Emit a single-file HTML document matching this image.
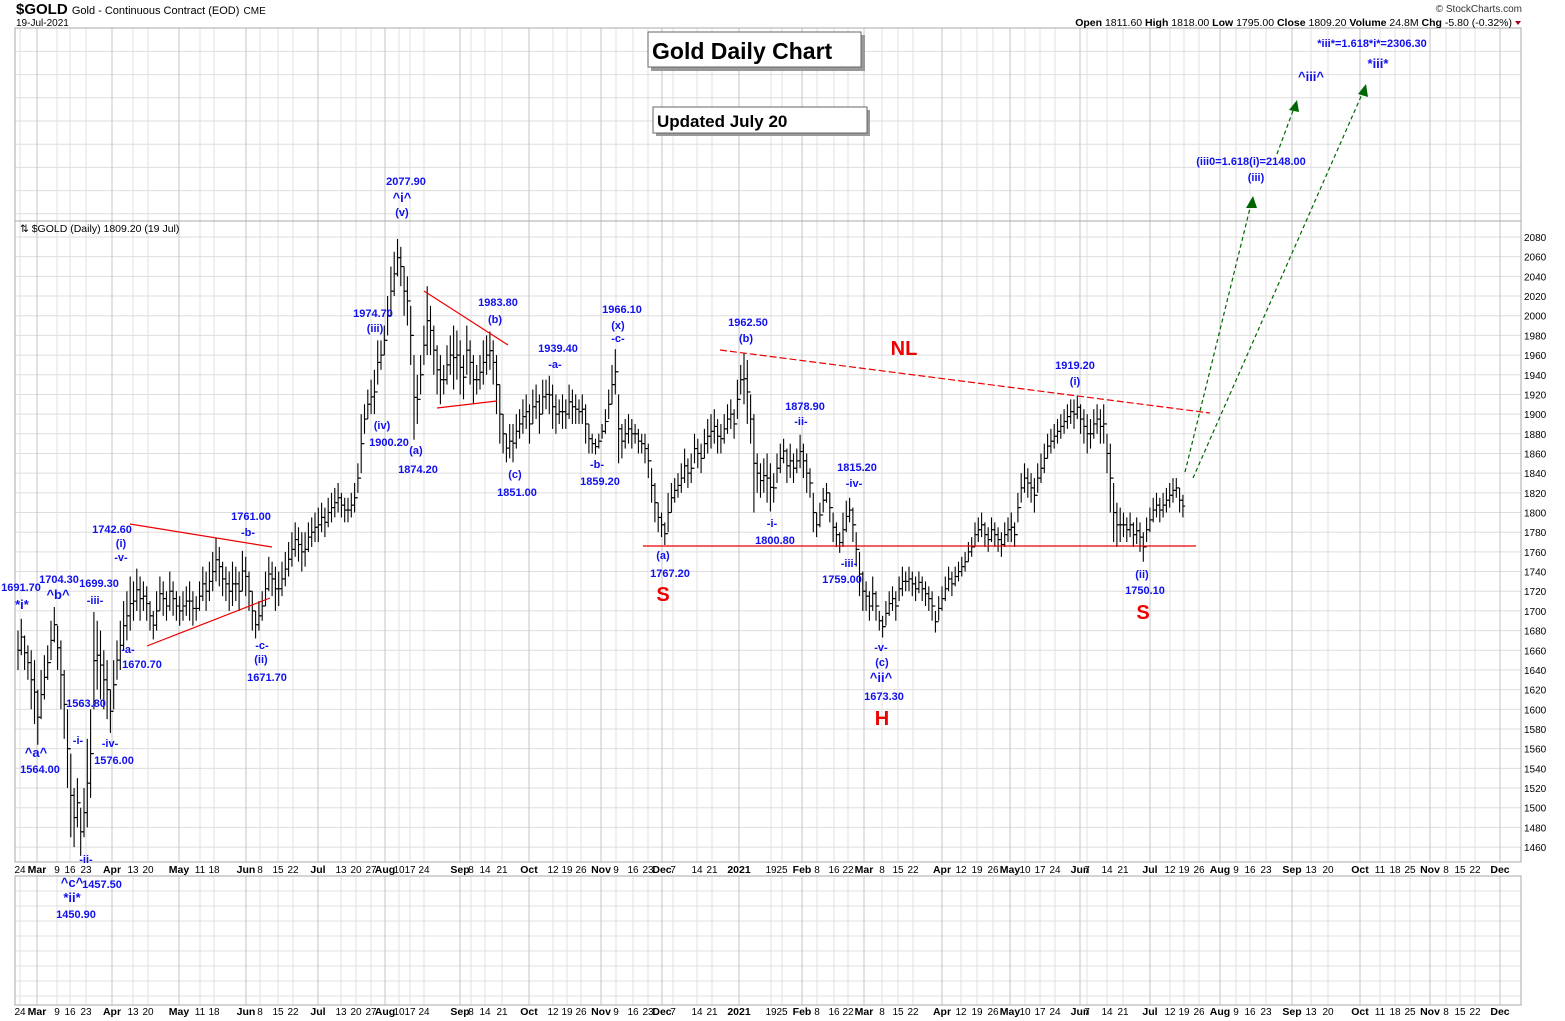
<!DOCTYPE html>
<html><head><meta charset="utf-8"><style>
html,body{margin:0;padding:0;background:#fff;}
svg{display:block;font-family:"Liberation Sans",Arial,sans-serif;}
.lb{fill:#1010ee;font-weight:bold;font-size:11px;text-anchor:middle;}
.lw{fill:#1010ee;font-weight:bold;font-size:13px;text-anchor:middle;}
.rd{fill:#ee0000;font-weight:bold;font-size:20px;text-anchor:middle;}
.tk{font-size:10px;fill:#000;text-anchor:middle;}
.tkm{font-size:10.5px;fill:#000;font-weight:bold;text-anchor:middle;}
.ax{font-size:10px;fill:#000;}
</style></head><body>
<svg id="chart" width="1565" height="1021" viewBox="0 0 1565 1021">
<g id="grid"></g>
<rect x="15" y="28" width="1506" height="834" fill="none" stroke="#aaa"/>
<line x1="15" y1="221" x2="1521" y2="221" stroke="#aaa"/>
<rect x="15" y="876" width="1506" height="129" fill="none" stroke="#aaa"/>
<g id="ticks"></g>
<g id="yaxis"></g>
<g id="bars"></g>

<text x="16" y="14" font-size="15" font-weight="bold" font-family="Liberation Sans Narrow,Liberation Sans,sans-serif">$GOLD <tspan font-size="11" font-weight="normal">Gold - Continuous Contract (EOD)</tspan> <tspan font-size="10" font-weight="normal">CME</tspan></text>
<text x="16" y="26" font-size="10">19-Jul-2021</text>
<text x="1522" y="12" font-size="10" text-anchor="end" fill="#333">© StockCharts.com</text>
<text x="1512" y="26" font-size="10.5" text-anchor="end"><tspan font-weight="bold">Open</tspan> 1811.60  <tspan font-weight="bold">High</tspan> 1818.00  <tspan font-weight="bold">Low</tspan> 1795.00  <tspan font-weight="bold">Close</tspan> 1809.20  <tspan font-weight="bold">Volume</tspan> 24.8M  <tspan font-weight="bold">Chg</tspan> -5.80 (-0.32%)</text>
<polygon points="1515,21 1521,21 1518,25" fill="#a00020"/>
<text x="20" y="232" font-size="10.5">⇅ $GOLD (Daily) 1809.20 (19 Jul)</text>

<g>
<rect x="651" y="35" width="214" height="36" fill="#999"/>
<rect x="648" y="32" width="213" height="35" fill="#fff" stroke="#666"/>
<text x="652" y="59" font-size="23" font-weight="bold">Gold Daily Chart</text></g>
<g>
<rect x="656" y="110" width="214" height="26" fill="#999"/>
<rect x="653" y="107" width="214" height="26" fill="#fff" stroke="#666"/>
<text x="657" y="127" font-size="17" font-weight="bold">Updated July 20</text></g>

<g stroke="#ee0000" stroke-width="1.2">
<line x1="130" y1="524" x2="272" y2="547"/><line x1="147" y1="646" x2="270" y2="598"/>
<line x1="424" y1="291" x2="508" y2="345"/><line x1="437" y1="408" x2="497" y2="401"/>
<line x1="720" y1="350" x2="1210" y2="413" stroke-dasharray="7,3"/>
<line x1="643" y1="546" x2="1196" y2="546"/>
</g>
<g stroke="#006600" stroke-width="1.2" stroke-dasharray="4,3" fill="#006600">
<line x1="1185" y1="472" x2="1251" y2="204"/><polygon points="1253,196 1246,208 1257,208" stroke="none"/>
<line x1="1277" y1="154" x2="1294" y2="108"/><polygon points="1297,100 1289,110 1299,112" stroke="none"/>
<line x1="1193" y1="478" x2="1363" y2="92"/><polygon points="1366,84 1358,94 1368,97" stroke="none"/>
</g>

<g>
<text class="lb" x="21" y="591">1691.70</text><text class="lw" x="22" y="609">*i*</text>
<text class="lb" x="59" y="583">1704.30</text><text class="lw" x="58" y="599">^b^</text>
<text class="lb" x="99" y="587">1699.30</text><text class="lb" x="95" y="604">-iii-</text>
<text class="lb" x="112" y="533">1742.60</text><text class="lb" x="121" y="547">(i)</text><text class="lb" x="121" y="561">-v-</text>
<text class="lb" x="251" y="520">1761.00</text><text class="lb" x="248" y="536">-b-</text>
<text class="lb" x="128" y="653">-a-</text><text class="lb" x="142" y="668">1670.70</text>
<text class="lb" x="262" y="649">-c-</text><text class="lb" x="261" y="663">(ii)</text><text class="lb" x="267" y="681">1671.70</text>
<text class="lb" x="86" y="707">1563.80</text><text class="lb" x="78" y="744">-i-</text>
<text class="lw" x="36" y="757">^a^</text><text class="lb" x="40" y="773">1564.00</text>
<text class="lb" x="110" y="747">-iv-</text><text class="lb" x="114" y="764">1576.00</text>
<text class="lb" x="86" y="863">-ii-</text>
<text class="lw" x="72" y="887">^c^</text><text class="lb" x="102" y="888">1457.50</text>
<text class="lw" x="72" y="902">*ii*</text><text class="lb" x="76" y="918">1450.90</text>
<text class="lb" x="406" y="185">2077.90</text><text class="lw" x="402" y="202">^i^</text><text class="lb" x="402" y="216">(v)</text>
<text class="lb" x="373" y="317">1974.70</text><text class="lb" x="375" y="332">(iii)</text>
<text class="lb" x="382" y="429">(iv)</text><text class="lb" x="389" y="446">1900.20</text>
<text class="lb" x="416" y="454">(a)</text><text class="lb" x="418" y="473">1874.20</text>
<text class="lb" x="498" y="306">1983.80</text><text class="lb" x="495" y="323">(b)</text>
<text class="lb" x="515" y="478">(c)</text><text class="lb" x="517" y="496">1851.00</text>
<text class="lb" x="558" y="352">1939.40</text><text class="lb" x="555" y="368">-a-</text>
<text class="lb" x="622" y="313">1966.10</text><text class="lb" x="618" y="329">(x)</text><text class="lb" x="618" y="342">-c-</text>
<text class="lb" x="597" y="468">-b-</text><text class="lb" x="600" y="485">1859.20</text>
<text class="lb" x="748" y="326">1962.50</text><text class="lb" x="746" y="342">(b)</text>
<text class="lb" x="805" y="410">1878.90</text><text class="lb" x="801" y="425">-ii-</text>
<text class="lb" x="772" y="527">-i-</text><text class="lb" x="775" y="544">1800.80</text>
<text class="lb" x="857" y="471">1815.20</text><text class="lb" x="854" y="487">-iv-</text>
<text class="lb" x="849" y="567">-iii-</text><text class="lb" x="842" y="583">1759.00</text>
<text class="lb" x="663" y="559">(a)</text><text class="lb" x="670" y="577">1767.20</text>
<text class="lb" x="881" y="651">-v-</text><text class="lb" x="882" y="666">(c)</text>
<text class="lw" x="881" y="682">^ii^</text><text class="lb" x="884" y="700">1673.30</text>
<text class="lb" x="1075" y="369">1919.20</text><text class="lb" x="1075" y="385">(i)</text>
<text class="lb" x="1142" y="578">(ii)</text><text class="lb" x="1145" y="594">1750.10</text>
<text class="lb" x="1251" y="165" font-size="10">(iii0=1.618(i)=2148.00</text><text class="lb" x="1256" y="181">(iii)</text>
<text class="lw" x="1311" y="81">^iii^</text>
<text class="lb" x="1372" y="47" font-size="10">*iii*=1.618*i*=2306.30</text><text class="lw" x="1378" y="68">*iii*</text>
</g>
<g>
<text class="rd" x="663" y="601">S</text><text class="rd" x="904" y="355">NL</text>
<text class="rd" x="882" y="725">H</text><text class="rd" x="1143" y="619">S</text>
</g>
</svg>
<script>
const highs = [
1680,1692,1675,1665,1660,1650,1620,1640,1655,1665,
1690,1704,1685,1670,1640,1600,1555,1520,1530,1500,
1520,1570,1600,1699,1690,1680,1660,1650,1620,1650,
1670,1690,1710,1720,1735,1730,1743,1735,1730,1725,
1710,1700,1720,1735,1730,1720,1740,1730,1720,1715,
1720,1725,1730,1720,1715,1730,1745,1740,1750,1760,
1774,1765,1750,1745,1740,1750,1745,1740,1761,1755,
1740,1720,1700,1710,1720,1740,1755,1750,1745,1740,
1750,1760,1770,1780,1790,1785,1780,1780,1790,1795,
1800,1805,1810,1805,1815,1820,1825,1830,1820,1815,
1815,1820,1830,1850,1900,1910,1925,1935,1945,1975,
1975,1990,2020,2050,2065,2078,2070,2050,2040,2010,
1960,1940,1960,1990,2030,2010,1990,1970,1960,1950,
1970,1980,1990,1985,1975,1960,1990,1975,1960,1950,
1960,1975,1980,1984,1975,1960,1930,1900,1880,1890,
1890,1900,1905,1915,1920,1910,1925,1930,1920,1935,
1935,1939,1930,1920,1915,1920,1915,1930,1925,1920,
1915,1920,1910,1890,1880,1875,1880,1890,1905,1925,
1950,1966,1920,1890,1895,1900,1895,1890,1885,1880,
1880,1870,1845,1830,1810,1800,1790,1820,1830,1835,
1840,1850,1865,1855,1860,1880,1875,1870,1885,1895,
1900,1905,1895,1890,1900,1910,1915,1905,1935,1950,
1962,1955,1920,1900,1860,1850,1855,1860,1850,1840,
1860,1870,1875,1865,1870,1860,1865,1879,1870,1860,
1845,1820,1800,1810,1825,1830,1820,1800,1790,1780,
1800,1812,1815,1805,1780,1760,1740,1730,1720,1735,
1720,1700,1695,1710,1720,1725,1720,1735,1745,1740,
1745,1740,1735,1740,1735,1730,1725,1720,1700,1715,
1725,1735,1745,1740,1745,1750,1755,1760,1770,1775,
1790,1795,1800,1790,1785,1795,1790,1785,1780,1790,
1795,1800,1790,1820,1840,1850,1845,1840,1835,1850,
1860,1870,1880,1885,1890,1895,1900,1905,1910,1915,
1915,1919,1910,1905,1900,1895,1905,1910,1905,1910,
1880,1870,1830,1810,1805,1800,1795,1800,1790,1795,
1790,1780,1795,1805,1815,1820,1815,1820,1825,1830,1835,1835,1825,1818];
const lows = [
1640,1655,1640,1630,1600,1585,1564,1590,1610,1630,
1650,1668,1640,1600,1570,1520,1470,1460,1480,1451,
1470,1480,1510,1600,1620,1610,1600,1590,1576,1600,
1630,1640,1660,1670,1680,1690,1700,1690,1700,1690,
1680,1671,1680,1700,1695,1690,1700,1695,1690,1685,
1690,1695,1690,1685,1690,1700,1710,1700,1710,1720,
1730,1725,1715,1710,1700,1705,1710,1700,1720,1715,
1700,1680,1672,1680,1690,1705,1720,1715,1700,1705,
1715,1725,1735,1745,1755,1750,1740,1745,1760,1765,
1770,1770,1780,1775,1785,1790,1795,1800,1795,1790,
1790,1795,1800,1820,1840,1880,1895,1900,1900,1930,
1945,1960,1980,2000,2020,2040,2030,2000,1990,1950,
1874,1890,1920,1950,1960,1960,1940,1920,1910,1920,
1930,1940,1925,1935,1920,1915,1940,1930,1910,1920,
1925,1930,1940,1945,1930,1900,1870,1860,1851,1855,
1851,1865,1875,1880,1885,1870,1890,1895,1880,1900,
1905,1900,1885,1880,1890,1885,1885,1895,1890,1890,
1890,1890,1870,1860,1860,1859,1865,1875,1880,1895,
1910,1920,1850,1855,1865,1870,1865,1870,1860,1860,
1850,1835,1810,1790,1780,1775,1767,1780,1800,1810,
1815,1820,1830,1825,1830,1850,1845,1840,1855,1860,
1865,1870,1860,1860,1870,1880,1885,1875,1895,1920,
1910,1890,1870,1800,1820,1815,1820,1810,1801,1810,
1830,1840,1850,1830,1835,1830,1840,1845,1835,1820,
1815,1780,1775,1785,1800,1810,1790,1770,1765,1759,
1765,1780,1790,1770,1745,1715,1700,1700,1690,1700,
1690,1680,1673,1685,1695,1700,1690,1710,1715,1720,
1720,1715,1710,1718,1710,1705,1700,1690,1678,1690,
1700,1710,1720,1715,1725,1730,1735,1740,1750,1755,
1765,1770,1775,1765,1760,1770,1765,1760,1755,1765,
1770,1770,1765,1790,1810,1820,1815,1810,1800,1820,
1830,1840,1855,1860,1865,1870,1875,1880,1885,1890,
1885,1895,1880,1870,1860,1865,1875,1880,1870,1870,
1840,1800,1770,1765,1770,1775,1770,1775,1765,1768,
1760,1750,1770,1780,1790,1795,1790,1795,1800,1805,1810,1815,1800,1795];
const priceTicks = [1460,1480,1500,1520,1540,1560,1580,1600,1620,1640,1660,1680,1700,1720,1740,1760,1780,1800,1820,1840,1860,1880,1900,1920,1940,1960,1980,2000,2020,2040,2060,2080];
const tickLabels = ["24","Mar","9","16","23","Apr","13","20","May","11","18","Jun","8","15","22","Jul","13","20","27","Aug","10","17","24","Sep","8","14","21","Oct","12","19","26","Nov","9","16","23","Dec","7","14","21","2021","19","25","Feb","8","16","22","Mar","8","15","22","Apr","12","19","26","May","10","17","24","Jun","7","14","21","Jul","12","19","26","Aug","9","16","23","Sep","13","20","Oct","11","18","25","Nov","8","15","22","Dec"];
const tickLayout = [20,37,57,70,86,112,133,148,179,200,214,246,260,278,293,318,341,356,371,385,399,410,424,460,471,485,502,529,553,567,581,601,616,633,648,662,673,697,712,739,771,782,802,817,834,848,864,882,898,913,942,961,977,993,1010,1025,1040,1055,1080,1087,1107,1123,1150,1170,1184,1199,1220,1236,1250,1266,1292,1311,1328,1360,1380,1395,1410,1430,1446,1460,1475,1500];

const NS="http://www.w3.org/2000/svg";
function xScale(i){return 18+i*3.3;}
function yScale(p){return 237+(2080-p)*0.984;}
function mk(tag,attrs,parent){const e=document.createElementNS(NS,tag);for(const k in attrs)e.setAttribute(k,attrs[k]);parent.appendChild(e);return e;}
const grid=document.getElementById('grid'),ticks=document.getElementById('ticks'),yax=document.getElementById('yaxis'),bars=document.getElementById('bars');
for(let y=yScale(2080);y>30;y-=23.2){mk('line',{x1:15,x2:1521,y1:y,y2:y,stroke:'#dedede'},grid);}
priceTicks.forEach(p=>{const y=yScale(p);
 const l=mk('line',{x1:15,x2:1521,y1:y,y2:y,stroke:'#dedede'},grid);
 
 
 const t=mk('text',{x:1524,y:y+4,class:'ax'},yax);t.textContent=p;
 
 });
for(let y=891;y<1005;y+=15){mk('line',{x1:15,x2:1521,y1:y,y2:y,stroke:'#e2e2e2'},grid);}
tickLabels.forEach((lab,k)=>{const x=tickLayout[k];const major=isNaN(+lab)||lab==="2021";
 mk('line',{x1:x,x2:x,y1:28,y2:862,stroke:major?'#c4c4c4':'#e0e0e0'},grid);
 mk('line',{x1:x,x2:x,y1:876,y2:1005,stroke:major?'#c4c4c4':'#e0e0e0'},grid);
 [873,1015].forEach(yy=>{const t=mk('text',{x:x,y:yy,class:major?'tkm':'tk'},ticks);t.textContent=lab;
 
 });});
let prevMid=null;
highs.forEach((h,i)=>{const lo=lows[i];const x=xScale(i);const mid=(h+lo)/2;
 const g=mk('g',{stroke:'#000','stroke-width':1.1},bars);
 
 
 mk('line',{x1:x,x2:x,y1:yScale(h),y2:yScale(lo)},g);
 mk('line',{x1:x,x2:x+2.3,y1:yScale(mid),y2:yScale(mid)},g);
 if(prevMid!==null)mk('line',{x1:x-2.3,x2:x,y1:yScale(prevMid),y2:yScale(prevMid)},g);
 prevMid=mid;});
</script>
</body></html>
